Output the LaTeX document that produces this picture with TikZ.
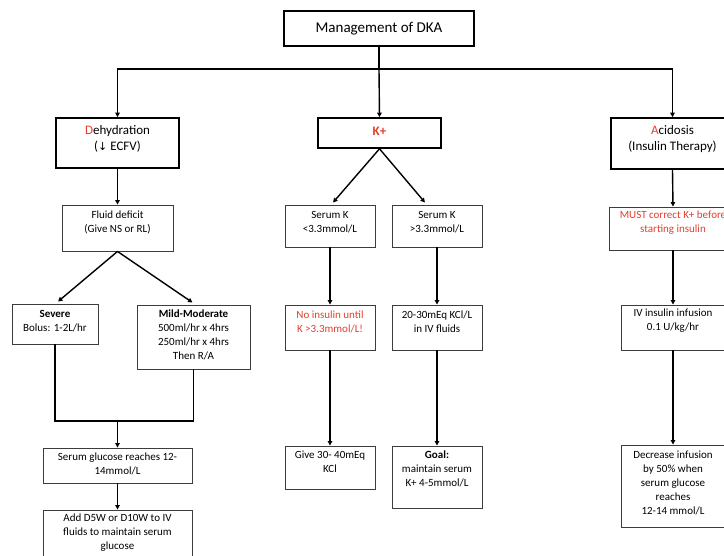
\documentclass[tikz,border=0pt]{standalone}
\usepackage{fontspec}
\setmainfont{Carlito}
\newfontfamily\symfont{DejaVu Sans}
\usetikzlibrary{arrows.meta,calc}
\definecolor{dkred}{RGB}{226,62,45}
\definecolor{boxgray}{RGB}{60,60,60}
\begin{document}
\begin{tikzpicture}[x=1pt,y=-1pt,
  thickbox/.style={draw=black, line width=1.6pt, inner sep=0pt},
  thinbox/.style={draw=boxgray, line width=0.9pt, inner sep=0pt},
  txt/.style={align=center, inner sep=0pt, font=\fontsize{11}{14}\selectfont},
  headtxt/.style={align=center, inner sep=0pt, font=\fontsize{13}{15.5}\selectfont},
  conn/.style={line width=1.4pt, black},
  arr/.style={conn, -{Triangle[length=4.5pt,width=4.5pt]}}]
\useasboundingbox (0,0) rectangle (724,556);

% top level boxes
\node[thickbox, minimum width=190pt, minimum height=35pt] (title) at (379,28.5) {};
\node[inner sep=0pt, font=\fontsize{15}{18}\selectfont] (titleT) at (379,29) {Management of DKA};

\node[thickbox, minimum width=123pt, minimum height=50pt] (dehyd) at (117.5,143) {};
\node[headtxt] (dehydT) at (117.5,139) {{\color{dkred}D}ehydration\\({\symfont\fontsize{11}{14}\selectfont ↓} ECFV)};

\node[thickbox, minimum width=123pt, minimum height=30pt] (kplus) at (379.5,133) {};
\node[headtxt] (kplusT) at (379.5,131) {\color{dkred}\bfseries K+};

\node[thickbox, minimum width=123pt, minimum height=51pt] (acid) at (672.5,143.5) {};
\node[headtxt] (acidT) at (672.5,139) {{\color{dkred}A}cidosis\\(Insulin Therapy)};

% dehydration column
\node[thinbox, minimum width=111pt, minimum height=46pt] (fluid) at (117.5,228) {};
\node[txt] (fluidT) at (117.5,222) {Fluid deficit\\(Give NS or RL)};

\node[thinbox, minimum width=86pt, minimum height=40pt] (severe) at (55,324) {};
\node[txt] (severeT) at (55,321) {\bfseries Severe\\Bolus: 1-2L/hr};

\node[thinbox, minimum width=113pt, minimum height=64pt] (mild) at (193.5,337) {};
\node[txt] (mildT) at (193.5,334.5) {\bfseries Mild-Moderate\\500ml/hr x 4hrs\\250ml/hr x 4hrs\\Then R/A};

\coordinate (jn) at (117.5,421);

\node[thinbox, minimum width=149pt, minimum height=35pt] (sglu) at (117.5,465.5) {};
\node[txt] (sgluT) at (117.5,464) {Serum glucose reaches 12-\\14mmol/L};

\node[thinbox, minimum width=149pt, minimum height=47pt] (d5w) at (117.5,533.5) {};
\node[txt] (d5wT) at (117.5,533) {Add D5W or D10W to IV\\fluids to maintain serum\\glucose};

% K+ column
\node[thinbox, minimum width=90pt, minimum height=42pt] (kL) at (330,226) {};
\node[txt] (kLT) at (330,222) {Serum K\\<3.3mmol/L};

\node[thinbox, minimum width=90pt, minimum height=42pt] (kR) at (437,226) {};
\node[txt] (kRT) at (437,222) {Serum K\\>3.3mmol/L};

\node[thinbox, minimum width=90pt, minimum height=45pt] (noins) at (330,327.5) {};
\node[txt, text=dkred] (noinsT) at (330,321.5) {No insulin until\\K >3.3mmol/L!};

\node[thinbox, minimum width=90pt, minimum height=45pt] (kcl) at (437,327.5) {};
\node[txt] (kclT) at (437,321.5) {20-30mEq KCl/L\\in IV fluids};

\node[thinbox, minimum width=90pt, minimum height=43pt] (give) at (330,467.5) {};
\node[txt] (giveT) at (330,461.5) {Give 30- 40mEq\\KCl};

\node[thinbox, minimum width=90pt, minimum height=62pt] (goal) at (437,477) {};
\node[txt] (goalT) at (437,468.5) {{\bfseries Goal:}\\maintain serum\\K+ 4-5mmol/L};

% acidosis column
\node[thinbox, minimum width=128pt, minimum height=43pt] (must) at (673,228.5) {};
\node[txt, text=dkred] (mustT) at (673,222.5) {MUST correct K+ before\\starting insulin};

\node[thinbox, minimum width=104pt, minimum height=45pt] (iv) at (673,327.5) {};
\node[txt] (ivT) at (673,320.5) {IV insulin infusion\\0.1 U/kg/hr};

\node[thinbox, minimum width=104pt, minimum height=82pt] (decr) at (673,486) {};
\node[txt] (decrT) at (673,482.5) {Decrease infusion\\by 50\% when\\serum glucose\\reaches\\12-14 mmol/L};

% connectors
\coordinate (hub) at (379,69);
\draw[conn] (title.south) -- (hub);
\draw[arr] (hub) -| (dehyd.north);
\draw[arr] (hub) -| (acid.north);
\draw[arr] (hub) -- (kplus.north);

\draw[arr] (dehyd.south) -- (fluid.north);
\draw[arr] (fluid.south) -- ($(severe.north)+(3,-2)$);
\draw[arr] (fluid.south) -- ($(mild.north)+(-1,-2)$);
\draw[conn] (severe.south) |- (jn) -| (mild.south);
\draw[arr] (jn) -- (sglu.north);
\draw[arr] (sglu.south) -- (d5w.north);

\draw[arr] (kplus.south) -- ($(kL.north)+(3,-2)$);
\draw[arr] (kplus.south) -- ($(kR.north)+(-12,-2)$);
\draw[arr] (kL.south) -- (noins.north);
\draw[arr] (kR.south) -- (kcl.north);
\draw[arr] (noins.south) -- (give.north);
\draw[arr] (kcl.south) -- (goal.north);

\draw[arr] (acid.south) -- (must.north);
\draw[arr] (must.south) -- (iv.north);
\draw[arr] (iv.south) -- (decr.north);
\end{tikzpicture}
\end{document}
